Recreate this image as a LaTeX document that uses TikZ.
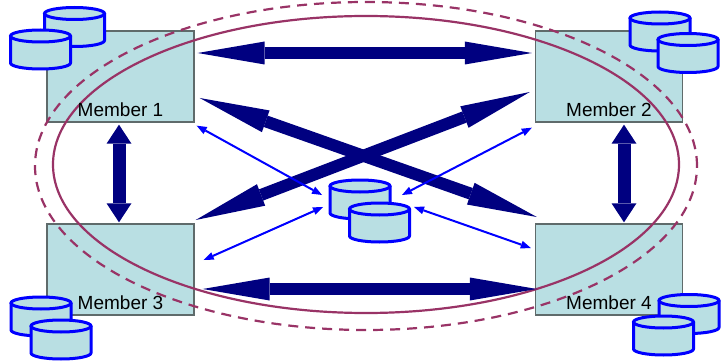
\documentclass[tikz,border=0pt]{standalone}
\usepackage{fontspec}
\setmainfont{Liberation Sans}
\usepackage{xcolor}
\usetikzlibrary{
    arrows.meta,
    shapes.geometric,
    positioning
}
\definecolor{boxfill}{HTML}{B9DFE3}
\definecolor{boxline}{HTML}{5F6B6B}
\definecolor{ringline}{HTML}{993366}
\definecolor{fatline}{HTML}{000080}
\tikzset{
    memberbox/.style={draw=boxline, line width=1.4pt, fill=boxfill, minimum width=147pt, minimum height=91pt, inner sep=0pt},
    memberlabel/.style={font=\fontsize{19}{19}\selectfont, inner sep=0pt, anchor=base},
    disk/.pic={
        \path[draw=blue, line width=3pt, line join=round, fill=boxfill] (-30, -13.5) -- (-30, 13.5) arc[start angle=180, end angle=0, x radius=30, y radius=6] -- (30, -13.5);
        \path[draw=blue, line width=3pt, fill=boxfill] (0, -13.5) ellipse[x radius=30, y radius=6];
        \coordinate (-c) at (0, 0);
    },
    ringnode/.style={ellipse, draw=ringline, line width=2.2pt, inner sep=0pt},
    fatarrow/.style={draw=fatline, line width=12pt, {Triangle[length=67pt,width=23pt,line width=0pt]}-{Triangle[length=67pt,width=23pt,line width=0pt]}},
    fatshort/.style={draw=fatline, line width=13pt, {Triangle[length=19pt,width=25pt,line width=0pt]}-{Triangle[length=19pt,width=25pt,line width=0pt]}},
    fatcross/.style={draw=fatline, line width=12pt, {Triangle[length=70pt,width=23pt,line width=0pt]}-{Triangle[length=70pt,width=23pt,line width=0pt]}},
    thinarrow/.style={draw=blue, line width=2pt, {Triangle[length=10pt,width=8pt,line width=0pt]}-{Triangle[length=10pt,width=8pt,line width=0pt]}}
}
\begin{document}
\begin{tikzpicture}[x=1pt, y=-1pt]
    \useasboundingbox (0, 0) rectangle (721, 361);
    % members
    \node[memberbox] (member1) at (120.5, 76.5) {};
    \node[memberbox] (member2) at (609, 76.5) {};
    \node[memberbox] (member3) at (120.5, 269.5) {};
    \node[memberbox] (member4) at (609, 269.5) {};
    % group outlines
    \node[ringnode, minimum width=626pt, minimum height=297pt] (ringsolid) at (366, 164.5) {};
    \node[ringnode, dashed, dash pattern=on 10pt off 7pt, minimum width=662pt, minimum height=328pt] (ringdash) at (366, 166) {};
    \node[memberlabel] (label1) at ([yshift=6pt]member1.south) {Member 1};
    \node[memberlabel] (label2) at ([yshift=6pt]member2.south) {Member 2};
    \node[memberlabel] (label3) at ([yshift=6pt]member3.south) {Member 3};
    \node[memberlabel] (label4) at ([yshift=6pt]member4.south) {Member 4};
    % disks
    \pic (db1b) at (74.5, 27) {disk};
    \pic (db1f) at (40.5, 49.5) {disk};
    \pic (db2b) at (660, 31.5) {disk};
    \pic (db2f) at (688, 53) {disk};
    \pic (db3b) at (41, 316.5) {disk};
    \pic (db3f) at (61, 339.5) {disk};
    \pic (db4b) at (689, 314) {disk};
    \pic (db4f) at (663.5, 335.5) {disk};
    \pic (dbcb) at (360, 199.5) {disk};
    \pic (dbcf) at (379.5, 222.5) {disk};
    % member to member
    \draw[fatarrow] ([xshift=3pt, yshift=23.5pt]member1.east) -- ([xshift=-3pt, yshift=23.5pt]member2.west);
    \draw[fatarrow] ([xshift=8pt, yshift=-19.5pt]member3.east) -- ([xshift=2pt, yshift=-19.5pt]member4.west);
    \draw[fatcross] ([xshift=5pt, yshift=-21.5pt]member1.east) -- ([xshift=2pt, yshift=52.5pt]member4.west);
    \draw[fatcross] ([xshift=1pt, yshift=49.5pt]member3.east) -- ([xshift=-5pt, yshift=-15.5pt]member2.west);
    \draw[fatshort] ([xshift=-1.5pt, yshift=-2pt]member1.south) -- ([xshift=-1.5pt, yshift=1pt]member3.north);
    \draw[fatshort] ([xshift=15pt, yshift=-2pt]member2.south) -- ([xshift=15pt, yshift=1pt]member4.north);
    % member to central disks
    \draw[thinarrow] ([xshift=2pt, yshift=-3pt]member1.south east) -- ([xshift=-38pt, yshift=4.5pt]dbcb-c);
    \draw[thinarrow] ([xshift=9pt, yshift=9.5pt]member3.east) -- ([xshift=-37pt, yshift=-7.5pt]dbcb-c);
    \draw[thinarrow] ([xshift=-3pt, yshift=-5pt]member2.south west) -- ([xshift=42pt, yshift=4.5pt]dbcb-c);
    \draw[thinarrow] ([xshift=-4pt, yshift=21.5pt]member4.west) -- ([xshift=34.5pt, yshift=15.5pt]dbcf-c);
\end{tikzpicture}
\end{document}
